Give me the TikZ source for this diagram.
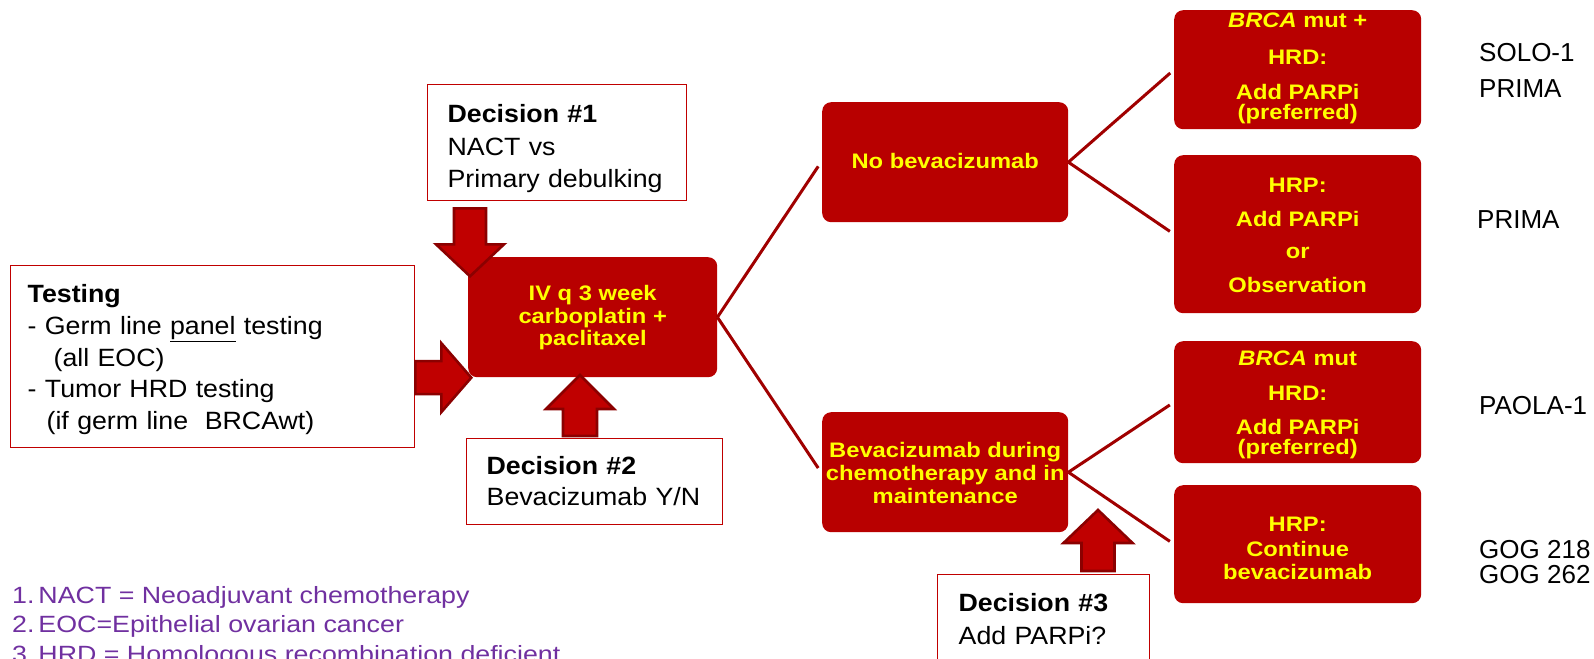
\documentclass[tikz,border=0pt]{standalone}
\usepackage{fontspec}
\setmainfont{Liberation Sans}
\newfontfamily\boxfont{Liberation Sans}[FakeStretch=1.07]
\newfontfamily\yfont{Liberation Sans}[FakeStretch=1.13]
\newfontfamily\notefont{Liberation Sans}[FakeStretch=1.14]
\usetikzlibrary{calc}
\definecolor{boxred}{HTML}{C00000}
\definecolor{darkfill}{HTML}{B80000}
\definecolor{arrfill}{HTML}{C00000}
\definecolor{arrline}{HTML}{8B0000}
\definecolor{connred}{HTML}{A00000}
\definecolor{ytext}{HTML}{FFFF00}
\definecolor{purp}{HTML}{7030A0}
\newcommand{\fsz}[2]{\fontsize{#1}{#2}\selectfont}
\newcommand{\hs}[1]{\rule{0pt}{#1pt}}
\newcommand{\ds}[1]{\rule[-#1pt]{0pt}{#1pt}}
\tikzset{
  whitebox/.style={draw=boxred, line width=1.3, fill=white, rectangle, inner sep=0, anchor=north west, align=left},
  darkbox/.style={fill=darkfill, rounded corners=9, rectangle, inner sep=0, anchor=north west, align=center,
     text=ytext, font=\yfont\bfseries\fsz{21}{21}},
  conn/.style={draw=connred, line width=3, shorten >=5},
  arrsty/.style={fill=arrfill, draw=arrline, line width=2.6, line join=miter},
  pics/bigarrow/.style args={#1/#2/#3/#4}{code={
     \filldraw[arrsty] (0,-#2) -- (#1-#4,-#2) -- (#1-#4,-#3) -- (#1,0) -- (#1-#4,#3) -- (#1-#4,#2) -- (0,#2) -- cycle;}},
  plain/.style={inner sep=0, anchor=base west, text=black, font=\fsz{26}{26}},
  note/.style={inner sep=0, anchor=base west, text=purp, font=\notefont\fsz{23.5}{23.5}},
}
\begin{document}
\begin{tikzpicture}[x=1pt,y=-1pt]
\useasboundingbox (0,0) rectangle (1594,658);
\begin{scope}
\clip (0,0) rectangle (1594,658);

% white decision / testing boxes
\node[whitebox, minimum width=259, minimum height=116, text width=219, inner xsep=20, font=\boxfont\fsz{25}{32.5}] (d1) at (427,84)
  {\hs{33}\textbf{Decision \#1}\\NACT vs\\Primary debulking\ds{8}};
\node[whitebox, minimum width=397, minimum height=182, text width=370, inner xsep=17, font=\boxfont\fsz{25}{31.75}] (test) at (10,265)
  {\hs{27}\textbf{Testing}\\- Germ line \underline{panel} testing\\\hspace*{26pt}(all EOC)\\- Tumor HRD testing\\\hspace*{19pt}(if germ line\ \ BRCAwt)\ds{8}};
\node[whitebox, minimum width=256, minimum height=86, text width=216, inner xsep=20, font=\boxfont\fsz{25}{31}] (d2) at (466,438)
  {\hs{25}\textbf{Decision \#2}\\Bevacizumab Y/N\ds{8}};
\node[whitebox, minimum width=202, minimum height=110, text width=170, inner xsep=21, font=\boxfont\fsz{25}{33}] (d3) at (937,574)
  {\hs{20}\textbf{Decision \#3}\\Add PARPi?\ds{23}};

% dark red boxes
\node[darkbox, minimum width=249, minimum height=120] (iv) at (468,257)
  {\hs{19.6}IV q 3 week\\[1.3pt]carboplatin +\\[1.3pt]paclitaxel\ds{8}};
\node[darkbox, minimum width=246, minimum height=120] (nobev) at (822,102) {\hs{20}No bevacizumab\ds{8}};
\node[darkbox, minimum width=246, minimum height=120] (bev) at (822,412)
  {\hs{25}Bevacizumab during\\[2pt]chemotherapy and in\\[2pt]maintenance\ds{8}};
\node[darkbox, minimum width=247, minimum height=119] (ra) at (1174,10)
  {\hs{16}\textit{BRCA} mut +\\[16pt]HRD:\\[14pt]Add PARPi\\[-1pt](preferred)\ds{9}};
\node[darkbox, minimum width=247, minimum height=158] (rb) at (1174,155)
  {\hs{25.5}HRP:\\[12.5pt]Add PARPi\\[11.5pt]or\\[12.5pt]Observation\ds{9}};
\node[darkbox, minimum width=247, minimum height=119] (rc) at (1174,341)
  {\hs{24}\textit{BRCA} mut\\[14pt]HRD:\\[13pt]Add PARPi\\[-1pt](preferred)\ds{9}};
\node[darkbox, minimum width=247, minimum height=118] (rd) at (1174,485)
  {\hs{31.5}HRP:\\[4.5pt]Continue\\[2pt]bevacizumab\ds{9}};

% connectors
\draw[conn] (iv.east) -- ([xshift=-1]nobev.west);
\draw[conn] (iv.east) -- ([xshift=-1]bev.west);
\draw[conn] (nobev.east) -- (ra.west);
\draw[conn] (nobev.east) -- (rb.west);
\draw[conn] (bev.east) -- (rc.west);
\draw[conn] (bev.east) -- (rd.west);

% block arrows
\coordinate (a1) at ([xshift=43]d1.south west);
\pic[rotate=-90] at ([yshift=-7]a1) {bigarrow=68/16/34/32};
\coordinate (a2) at (test.east);
\pic at ([yshift=-21]a2) {bigarrow=56/16.5/34.5/30};
\coordinate (a3) at ([xshift=114]d2.north west);
\pic[rotate=90] at ([yshift=2]a3) {bigarrow=61/17/34/34};
\coordinate (a4) at ([xshift=161]d3.north west);
\pic[rotate=90] at ([yshift=3]a4) {bigarrow=61/16.5/34.5/33};

% trial labels
\node[plain] (l1) at (1479,62) {SOLO-1};
\node[plain] (l2) at (1479,98) {PRIMA};
\node[plain] (l3) at (1477,228) {PRIMA};
\node[plain] (l4) at (1479,414) {PAOLA-1};
\node[plain] (l5) at (1479,558) {GOG 218};
\node[plain] (l6) at (1479,583) {GOG 262};

% footnotes
\node[note] (n1) at (12,603) {1.\,NACT = Neoadjuvant chemotherapy};
\node[note] (n2) at (12,632.5) {2.\,EOC=Epithelial ovarian cancer};
\node[note] (n3) at (12,662) {3.\,HRD = Homologous recombination deficient};
\end{scope}
\end{tikzpicture}
\end{document}
